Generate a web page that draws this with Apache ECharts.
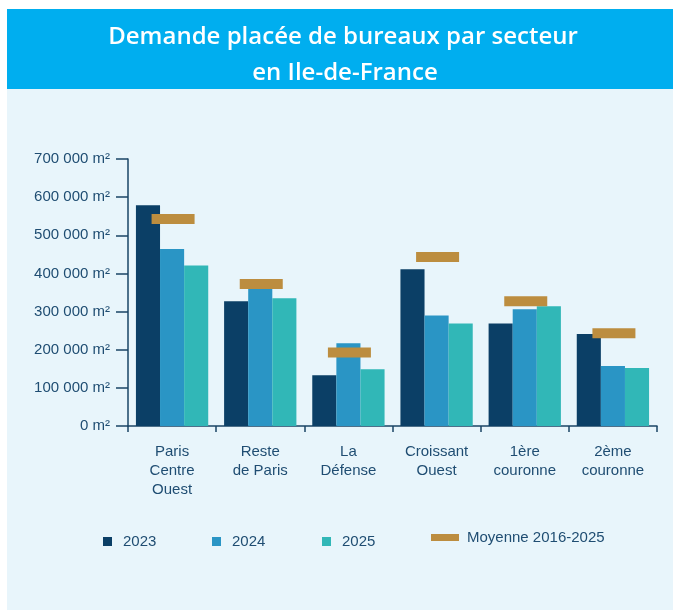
<!DOCTYPE html>
<html>
<head>
    <meta charset="utf-8">
    <title>Demande placée de bureaux par secteur</title>
    <script src="https://cdn.jsdelivr.net/npm/echarts@6/dist/echarts.min.js"></script>
    <style>
        html, body { margin: 0; padding: 0; background: #ffffff; }
        #chart { width: 673px; height: 610px; }
    </style>
</head>
<body>
<div id="chart"></div>
<script>
    // données (m²)
    var secteurs = ['Paris\nCentre\nOuest', 'Reste\nde Paris', 'La\nDéfense', 'Croissant\nOuest', '1ère\ncouronne', '2ème\ncouronne'];
    var v2023 = [579000, 327000, 133000, 411000, 269000, 241000];
    var v2024 = [464000, 365000, 217000, 290000, 306000, 157000];
    var v2025 = [421000, 335000, 149000, 269000, 314000, 152000];
    var moyenne = [543000, 372000, 193000, 443000, 327000, 243000];

    var txt = '#1f4d72';
    var axe = '#1a4466';

    var chart = echarts.init(document.getElementById('chart'), null, {renderer: 'canvas'});

    function fmt(v) {
        return String(v).replace(/\B(?=(\d{3})+(?!\d))/g, ' ') + ' m²';
    }

    function leg(name, left, top, w, h, pad) {
        return {
            data: [name], left: left, top: top, padding: 0,
            itemWidth: w, itemHeight: h, icon: 'rect',
            selectedMode: false,
            textStyle: {color: txt, fontSize: 15, fontFamily: 'Liberation Sans, Arial', padding: [0, 0, 0, pad]}
        };
    }

    var option = {
        animation: false,
        graphic: [
            {type: 'rect', shape: {x: 7, y: 9, width: 666, height: 601}, style: {fill: '#e8f5fb'}, z: -10},
            {type: 'rect', shape: {x: 7, y: 9, width: 666, height: 80}, style: {fill: '#00aeef'}, z: -9},
            {type: 'text', x: 343, y: 37, style: {text: 'Demande placée de bureaux par secteur', fill: '#ffffff',
                fontSize: 24, fontWeight: 600, fontFamily: 'Open Sans', align: 'center', verticalAlign: 'middle'}},
            {type: 'text', x: 345, y: 73, style: {text: 'en Ile-de-France', fill: '#ffffff',
                fontSize: 24, fontWeight: 600, fontFamily: 'Open Sans', align: 'center', verticalAlign: 'middle'}}
        ],
        legend: [
            leg('2023', 103, 534, 9, 9, 6),
            leg('2024', 212, 534, 9, 9, 6),
            leg('2025', 322, 534, 9, 9, 6),
            leg('Moyenne 2016-2025', 431, 530, 28, 7, 3)
        ],
        grid: {left: 128, right: 16, top: 159, bottom: 184},
        xAxis: {
            type: 'category',
            data: secteurs,
            axisLine: {lineStyle: {color: axe, width: 1.5}},
            axisTick: {show: true, length: 6, lineStyle: {color: axe, width: 1.5}},
            axisLabel: {color: txt, fontSize: 15, fontFamily: 'Liberation Sans, Arial', lineHeight: 19, margin: 16}
        },
        yAxis: {
            type: 'value',
            min: 0,
            max: 700000,
            interval: 100000,
            axisLine: {show: true, lineStyle: {color: axe, width: 1.5}},
            axisTick: {show: true, length: 12, lineStyle: {color: axe, width: 1.5}},
            axisLabel: {color: txt, fontSize: 15, fontFamily: 'Liberation Sans, Arial', margin: 18, formatter: fmt},
            splitLine: {show: false}
        },
        series: [
            {name: '2023', type: 'bar', data: v2023, barGap: 0, barCategoryGap: '18%', itemStyle: {color: '#0b3f66'}},
            {name: '2024', type: 'bar', data: v2024, itemStyle: {color: '#2a95c5'}},
            {name: '2025', type: 'bar', data: v2025, itemStyle: {color: '#31b7b7'}},
            {
                name: 'Moyenne 2016-2025', type: 'scatter', data: moyenne,
                symbol: 'rect', symbolSize: [43, 10], symbolOffset: [1, 0], z: 5,
                itemStyle: {color: '#bc8d3f', opacity: 1}
            }
        ]
    };

    chart.setOption(option);
</script>
</body>
</html>
